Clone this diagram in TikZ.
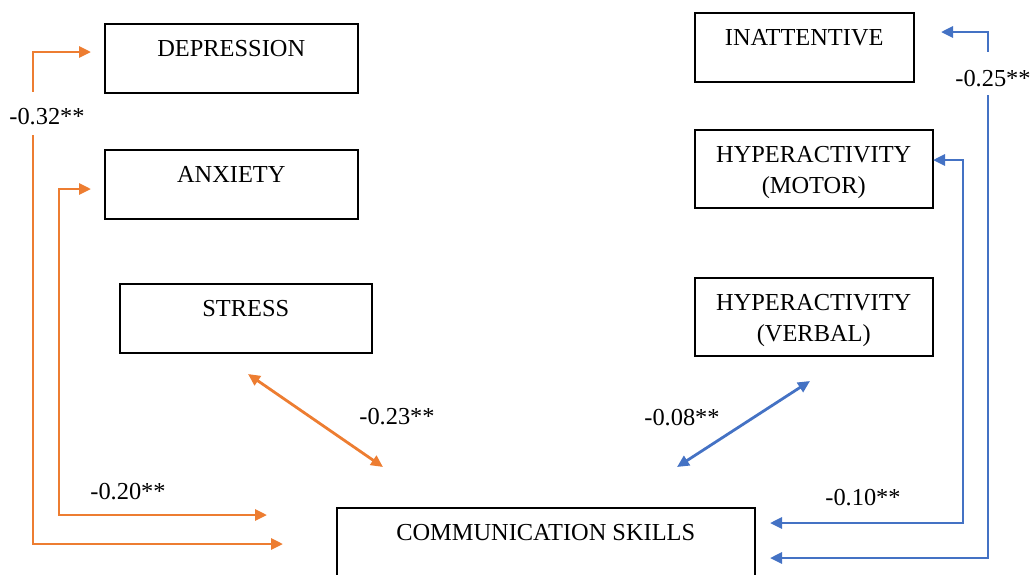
\documentclass[tikz,border=0pt]{standalone}
\usepackage{fontspec}
\setmainfont{Liberation Serif}
\usetikzlibrary{arrows.meta}
\definecolor{corange}{HTML}{ED7D31}
\definecolor{cblue}{HTML}{4472C4}
\begin{document}
\begin{tikzpicture}[x=0.5pt,y=-0.5pt,
  >={Triangle[length=6pt,width=5.5pt]},
  box/.style={draw, line width=0.75pt, inner sep=0pt, anchor=north west, align=center,
    text height=16.25pt, text depth=18.25pt, font=\fontsize{12.2}{15.5}\selectfont},
  twoline/.style={text height=31.75pt, text depth=7.25pt},
  val/.style={font=\fontsize{12.2}{14}\selectfont},
  orng/.style={corange, line width=1.4pt},
  blu/.style={cblue, line width=1.4pt}]
\useasboundingbox (0,0) rectangle (1034,574);
% left column
\node[box, minimum width=126.5pt] (dep) at (104,23) {DEPRESSION};
\node[box, minimum width=126.5pt] (anx) at (104,149) {ANXIETY};
\node[box, minimum width=126pt] (str) at (119,283) {STRESS};
% right column
\node[box, minimum width=109.5pt] (ina) at (694,12) {INATTENTIVE};
\node[box, twoline, minimum width=119pt] (mot) at (694,129) {HYPERACTIVITY\\(MOTOR)};
\node[box, twoline, minimum width=119pt] (ver) at (694,277) {HYPERACTIVITY\\(VERBAL)};
\node[box, minimum width=209pt, text depth=40pt] (com) at (336,507) {COMMUNICATION SKILLS};
% free ends
\coordinate (d1) at (91,52);   \coordinate (d2) at (283,544);
\coordinate (a1) at (91,189);  \coordinate (a2) at (267,515);
\coordinate (s1) at (248,374); \coordinate (s2) at (383,467);
\coordinate (i1) at (941,32);  \coordinate (i2) at (770,558);
\coordinate (m1) at (933,160); \coordinate (m2) at (770,523);
\coordinate (v1) at (810,381); \coordinate (v2) at (677,467);
% orange paths
\draw[orng, <-] (d1) -| (33,92);
\draw[orng, ->] (33,135) |- (d2);
\node[val] (r32) at (47,117) {-0.32**};
\draw[orng, <->] (a1) -| (59,515) -- (a2);
\node[val] (r20) at (128,492) {-0.20**};
\draw[orng, <->] (s1) -- (s2);
\node[val] (r23) at (397,417) {-0.23**};
% blue paths
\draw[blu, <-] (i1) -| (988,52);
\draw[blu, ->] (988,95) |- (i2);
\node[val] (r25) at (993,79) {-0.25**};
\draw[blu, <->] (m1) -| (963,523) -- (m2);
\node[val] (r10) at (863,498) {-0.10**};
\draw[blu, <->] (v1) -- (v2);
\node[val] (r08) at (682,418) {-0.08**};
\end{tikzpicture}
\end{document}
